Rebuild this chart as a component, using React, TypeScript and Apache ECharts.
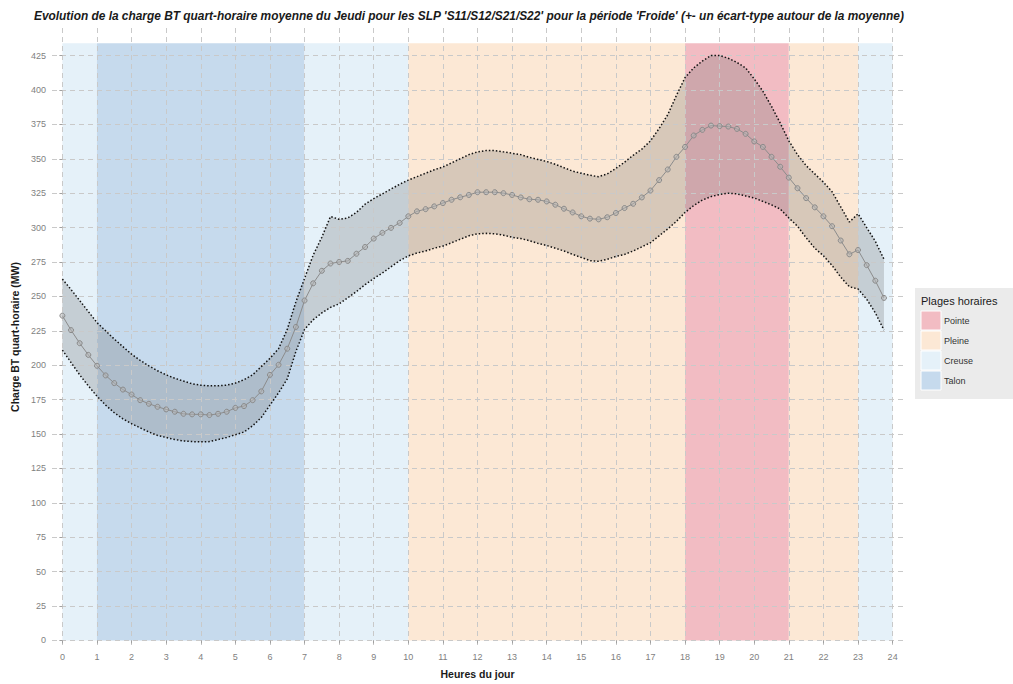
import React, { useEffect, useRef } from "react";
import * as echarts from "echarts";

// Quarter-hour positions (hours)
const HOURS: number[] = [
  0, 0.25, 0.5, 0.75, 1, 1.25, 1.5, 1.75, 2, 2.25, 2.5, 2.75, 3, 3.25, 3.5, 3.75,
  4, 4.25, 4.5, 4.75, 5, 5.25, 5.5, 5.75, 6, 6.25, 6.5, 6.75, 7, 7.25, 7.5, 7.75,
  8, 8.25, 8.5, 8.75, 9, 9.25, 9.5, 9.75, 10, 10.25, 10.5, 10.75, 11, 11.25, 11.5, 11.75,
  12, 12.25, 12.5, 12.75, 13, 13.25, 13.5, 13.75, 14, 14.25, 14.5, 14.75, 15, 15.25, 15.5, 15.75,
  16, 16.25, 16.5, 16.75, 17, 17.25, 17.5, 17.75, 18, 18.25, 18.5, 18.75, 19, 19.25, 19.5, 19.75,
  20, 20.25, 20.5, 20.75, 21, 21.25, 21.5, 21.75, 22, 22.25, 22.5, 22.75, 23, 23.25, 23.5, 23.75,
];

const MEAN: number[] = [
  236, 225.5, 216, 207.5, 199.6, 192.6, 187, 182.3, 178.7, 174.6, 172, 169.8, 167.9, 166.2, 164.7, 164.3,
  164.3, 163.8, 164.7, 166.2, 169, 170.3, 174.6, 181, 193, 200.3, 212, 227.8, 247, 259.5, 268.6, 273.9,
  275, 275.8, 281, 285.9, 292, 296.2, 299.8, 303.4, 308.2, 311.8, 313.4, 315.4, 317.8, 320.2, 322, 323.7,
  325.7, 325.7, 325.7, 325, 323.7, 321.9, 320.6, 320.2, 319, 316.6, 313.7, 311, 308.2, 306.5, 306, 307.5,
  310.6, 314.2, 317.3, 321.9, 326.9, 334.5, 342.2, 351.4, 358.6, 366.9, 371, 374.1, 373.7, 373.4, 371.7, 368.1,
  362.6, 358.6, 351.4, 344.2, 336.3, 328.6, 321.4, 314.7, 308.2, 301, 290.6, 280.6, 283.7, 272.7, 261.4, 248.9,
];

const UPPER: number[] = [
  262.6, 255, 247, 239, 231, 225, 219, 213.5, 208, 203.5, 199.5, 196, 193, 190.5, 188.5, 186.5,
  185.5, 185, 185, 185.5, 187, 189.5, 193, 199, 205, 212, 226, 246, 263, 280, 293, 308,
  306, 307, 311, 317, 321, 324.5, 328, 331.5, 334.5, 337, 339.5, 342, 344, 347, 350, 353,
  355, 356, 356, 355, 354, 353, 351, 349.5, 348, 346, 343.5, 341, 339.5, 338, 337, 339,
  343, 347.5, 352.5, 357, 363, 372, 382, 396, 409, 416, 421, 425, 425, 423, 420, 416,
  408, 399, 388, 376, 363, 353, 345, 339, 333, 326, 315, 304, 310, 300, 290, 277,
];

const LOWER: number[] = [
  211, 202, 193, 185, 177.5, 171, 165.5, 161, 157.5, 154.5, 151.5, 149, 147.5, 146, 145, 144.5,
  144.3, 144.5, 146, 147.5, 149.5, 151.5, 156, 162, 171, 180, 190, 210, 226, 233, 238, 242,
  244.6, 249, 253.5, 258.5, 263, 267, 271.5, 276, 279.4, 281.5, 283, 285, 286.6, 289, 291.5, 294,
  295.5, 295.8, 295.5, 294.5, 293, 292, 290.5, 288.5, 287, 285, 283, 280.5, 278.3, 276, 275.5, 277,
  279, 280.5, 283, 286, 289, 294, 299, 304.5, 311, 316, 320, 322.5, 324, 325, 324.5, 323,
  321.5, 319, 316.5, 313.5, 307, 301, 292.6, 285, 279.5, 272.5, 264, 257, 255.4, 248, 238, 225.5,
];

// Tariff periods: [start hour, end hour, period name]
const BAND_START: number[] = [0, 1, 7, 10, 18, 21, 23];
const BAND_END: number[] = [1, 7, 10, 18, 21, 23, 24];
const BAND_TYPE: string[] = ["Creuse", "Talon", "Creuse", "Pleine", "Pointe", "Pleine", "Creuse"];
const BAND_TOP = 434;

const LEGEND_ITEMS: string[] = ["Pointe", "Pleine", "Creuse", "Talon"];
const PERIOD_COLORS: Record<string, string> = {
  Pointe: "#f2bcc3",
  Pleine: "#fce8d5",
  Creuse: "#e5f1f9",
  Talon: "#c6daed",
};

const X_TICKS: number[] = [0, 1, 2, 3, 4, 5, 6, 7, 8, 9, 10, 11, 12, 13, 14, 15, 16, 17, 18, 19, 20, 21, 22, 23, 24];
const Y_TICKS: number[] = [0, 25, 50, 75, 100, 125, 150, 175, 200, 225, 250, 275, 300, 325, 350, 375, 400, 425];

const TITLE =
  "Evolution de la charge BT quart-horaire moyenne du Jeudi pour les SLP 'S11/S12/S21/S22' pour la période 'Froide' (+- un écart-type autour de la moyenne)";

const FONT = "'Liberation Sans', Arial, sans-serif";

export default function App() {
  const ref = useRef<HTMLDivElement>(null);

  useEffect(() => {
    document.body.style.margin = "0";
    if (!ref.current) return;
    const chart = echarts.init(ref.current, undefined, { renderer: "svg" });

    const bandData = BAND_START.map((s, i) => [s, BAND_END[i], i]);
    const ribbonData = HOURS.map((h, i) => [h, LOWER[i], UPPER[i]]);
    const lowerPts = HOURS.map((h, i) => [h, LOWER[i]]);
    const upperPts = HOURS.map((h, i) => [h, UPPER[i]]);
    const meanPts = HOURS.map((h, i) => [h, MEAN[i]]);

    const gridLine = { show: true, lineStyle: { color: "#c9c9c9", width: 1, type: [5, 4] as any } };

    const legendX = 915;
    const legendY = 288;
    const legendGraphics: any[] = [
      { type: "rect", shape: { x: legendX, y: legendY, width: 98, height: 111 }, style: { fill: "#ebebeb" }, z: 100 },
      {
        type: "text",
        x: legendX + 6,
        y: legendY + 13,
        style: { text: "Plages horaires", font: `11px ${FONT}`, fill: "#1a1a1a", textVerticalAlign: "middle" },
        z: 101,
      },
    ];
    LEGEND_ITEMS.forEach((name, i) => {
      const y0 = legendY + 23 + i * 20;
      legendGraphics.push({
        type: "rect",
        shape: { x: legendX + 6, y: y0, width: 20, height: 19 },
        style: { fill: PERIOD_COLORS[name], stroke: "#ffffff", lineWidth: 1 },
        z: 101,
      });
      legendGraphics.push({
        type: "text",
        x: legendX + 29,
        y: y0 + 10,
        style: { text: name, font: `9px ${FONT}`, fill: "#333333", textVerticalAlign: "middle" },
        z: 101,
      });
    });

    chart.setOption({
      animation: false,
      backgroundColor: "#ffffff",
      title: {
        text: TITLE,
        left: 29,
        top: 5,
        textStyle: { fontFamily: FONT, fontSize: 11.9, fontWeight: "bold", fontStyle: "italic", color: "#1a1a1a" },
      },
      grid: { left: 52, right: 110, top: 28, bottom: 32, containLabel: false },
      xAxis: {
        type: "value",
        min: -0.3,
        max: 24.3,
        z: 3,
        name: "Heures du jour",
        nameLocation: "middle",
        nameGap: 22,
        nameTextStyle: { fontFamily: FONT, fontSize: 10.5, fontWeight: "bold", color: "#1a1a1a" },
        axisLine: { show: false },
        axisTick: { show: true, customValues: X_TICKS, length: 3, lineStyle: { color: "#a0a0a0" } },
        axisLabel: { customValues: X_TICKS, fontFamily: FONT, fontSize: 9, color: "#7f7f7f", margin: 6 },
        splitLine: gridLine,
      },
      yAxis: {
        type: "value",
        min: -4,
        max: 445,
        z: 3,
        name: "Charge BT quart-horaire (MW)",
        nameLocation: "middle",
        nameGap: 30,
        nameRotate: 90,
        nameTextStyle: { fontFamily: FONT, fontSize: 10.5, fontWeight: "bold", color: "#1a1a1a" },
        axisLine: { show: false },
        axisTick: { show: true, customValues: Y_TICKS, length: 3, lineStyle: { color: "#a0a0a0" } },
        axisLabel: { customValues: Y_TICKS, fontFamily: FONT, fontSize: 9, color: "#7f7f7f", margin: 6 },
        splitLine: gridLine,
      },
      series: [
        {
          type: "custom",
          z: 1,
          silent: true,
          data: bandData,
          renderItem: (params: any, api: any) => {
            const s = api.value(0);
            const e = api.value(1);
            const idx = api.value(2);
            const p0 = api.coord([s, BAND_TOP]);
            const p1 = api.coord([e, 0]);
            return {
              type: "rect",
              shape: { x: p0[0], y: p0[1], width: p1[0] - p0[0], height: p1[1] - p0[1] },
              style: { fill: PERIOD_COLORS[BAND_TYPE[idx]] },
            };
          },
        },
        {
          type: "custom",
          z: 2,
          silent: true,
          data: ribbonData,
          encode: { x: 0, y: [1, 2] },
          renderItem: (params: any, api: any) => {
            if (params.dataIndex !== 0) return null;
            const top = ribbonData.map((r) => api.coord([r[0], r[2]]));
            const bottom = ribbonData.map((r) => api.coord([r[0], r[1]])).reverse();
            return {
              type: "polygon",
              shape: { points: top.concat(bottom) },
              style: { fill: "rgba(105,105,105,0.25)" },
            };
          },
        },
        {
          type: "line",
          z: 4,
          data: upperPts,
          symbol: "none",
          lineStyle: { color: "#111111", width: 1.5, type: [1.5, 2] as any },
          silent: true,
        },
        {
          type: "line",
          z: 4,
          data: lowerPts,
          symbol: "none",
          lineStyle: { color: "#111111", width: 1.5, type: [1.5, 2] as any },
          silent: true,
        },
        {
          type: "line",
          z: 5,
          data: meanPts,
          symbol: "circle",
          symbolSize: 5,
          showSymbol: true,
          lineStyle: { color: "#8c8c8c", width: 1 },
          itemStyle: { color: "rgba(180,180,180,0.5)", borderColor: "#8a8a8a", borderWidth: 1 },
          silent: true,
        },
      ],
      graphic: legendGraphics,
    });

    return () => chart.dispose();
  }, []);

  return <div ref={ref} style={{ width: 1013, height: 684 }} />;
}
